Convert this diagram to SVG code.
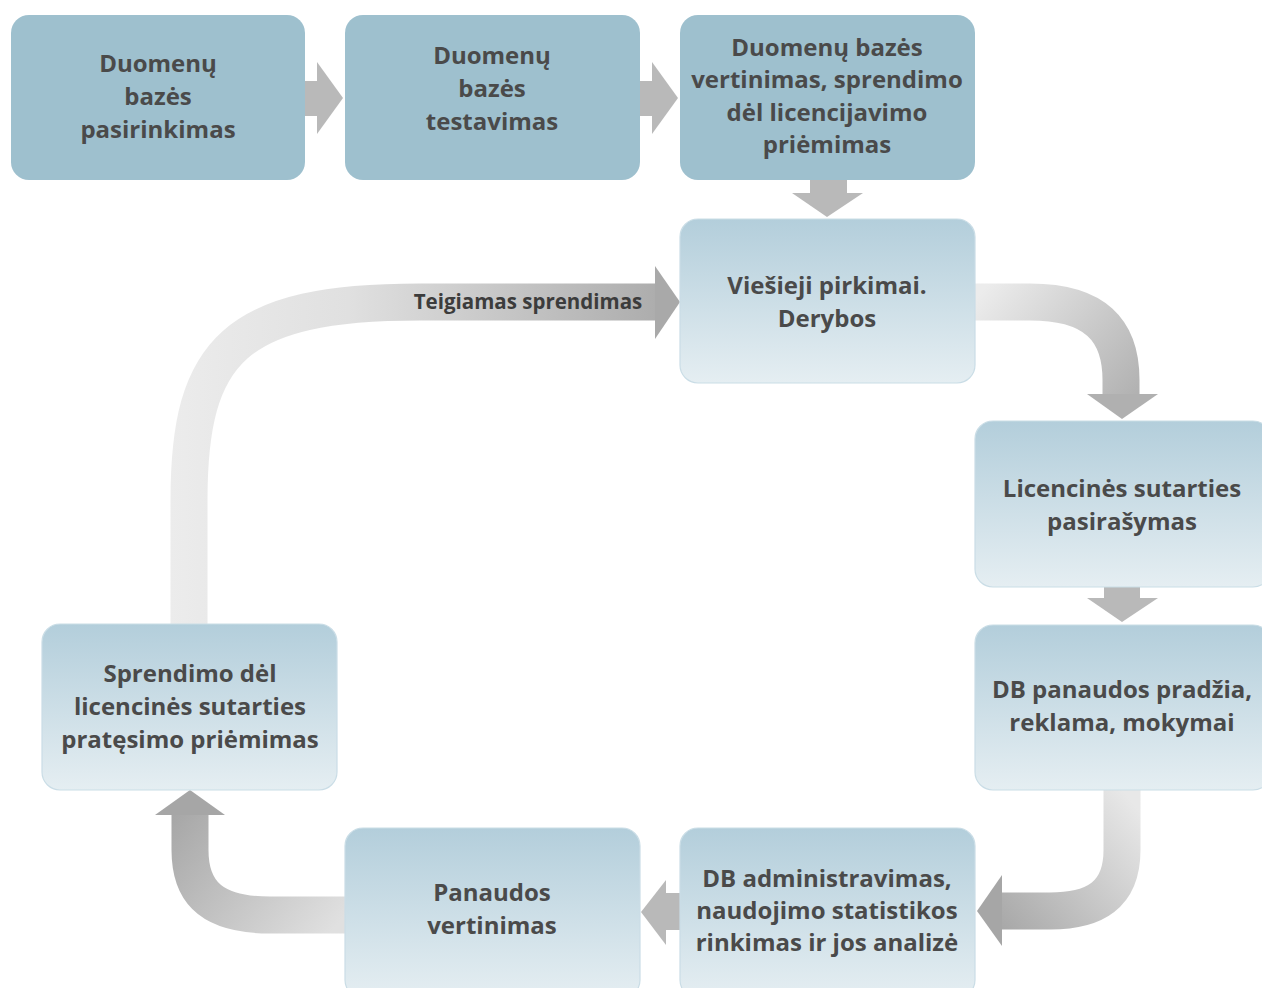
<svg xmlns="http://www.w3.org/2000/svg" width="1262" height="988" viewBox="0 0 1262 988">
<style>
.top{fill:#9ec0ce;}
.low{fill:url(#gBox);stroke:#cadde6;stroke-width:1.2;}
.t{font-family:"Open Sans","Liberation Sans",sans-serif;font-weight:700;font-size:24px;fill:#4a4a4a;text-anchor:middle;}
.lbl{font-family:"Open Sans","Liberation Sans",sans-serif;font-weight:700;font-size:20.5px;fill:#3c3c3c;text-anchor:middle;}
.ar{fill:#b9b9b9;}
.cs{fill:none;stroke-width:37;}
</style>
<defs>
<linearGradient id="gBox" x1="0" y1="0" x2="0" y2="1">
<stop offset="0" stop-color="#b3cedb"/>
<stop offset="1" stop-color="#e5eef2"/>
</linearGradient>
<linearGradient id="gBig" gradientUnits="userSpaceOnUse" x1="170" y1="0" x2="680" y2="0">
<stop offset="0" stop-color="#ececec"/>
<stop offset="0.35" stop-color="#e0e0e0"/>
<stop offset="1" stop-color="#a9a9a9"/>
</linearGradient>
<linearGradient id="gR" gradientUnits="userSpaceOnUse" x1="975" y1="300" x2="1121" y2="420">
<stop offset="0" stop-color="#ececec"/>
<stop offset="1" stop-color="#b0b0b0"/>
</linearGradient>
<linearGradient id="gBR" gradientUnits="userSpaceOnUse" x1="1122" y1="790" x2="980" y2="911">
<stop offset="0" stop-color="#e8e8e8"/>
<stop offset="1" stop-color="#a6a6a6"/>
</linearGradient>
<linearGradient id="gBL" gradientUnits="userSpaceOnUse" x1="345" y1="915" x2="190" y2="790">
<stop offset="0" stop-color="#e0e0e0"/>
<stop offset="1" stop-color="#a6a6a6"/>
</linearGradient>
</defs>

<g id="connectors">
<rect class="ar" x="304" y="81" width="14" height="35"/>
<polygon class="ar" points="317,62 343,98 317,134"/>
<rect class="ar" x="639" y="81" width="14" height="35"/>
<polygon class="ar" points="652,62 678,98 652,134"/>
<rect class="ar" x="810" y="179" width="37" height="15"/>
<polygon class="ar" points="792,193 863,193 827,217"/>
<rect class="ar" x="1104" y="586" width="36" height="13"/>
<polygon class="ar" points="1087,598 1158,598 1122,622"/>
<rect class="ar" x="665" y="893" width="16" height="37"/>
<polygon class="ar" points="666,880 641,912 666,945"/>
<path class="cs" stroke="url(#gBig)" d="M189 625 L189 500 C189 350 235 302 420 302 L656 302"/>
<polygon fill="#a9a9a9" points="655,266 680,302 655,339"/>
<path class="cs" stroke="url(#gR)" d="M975 302 L1030 302 C1095 302 1121 330 1121 380 L1121 395"/>
<polygon fill="#b0b0b0" points="1087,394 1158,394 1122,419"/>
<path class="cs" stroke="url(#gBR)" d="M1122 790 L1122 850 C1122 895 1095 911 1050 911 L1002 911"/>
<polygon fill="#a6a6a6" points="1002,875 977,911 1002,946"/>
<path class="cs" stroke="url(#gBL)" d="M345 915 L270 915 C215 915 190 895 190 850 L190 814"/>
<polygon fill="#a6a6a6" points="155,815 190,790 225,815"/>
<text class="lbl" x="528" y="309">Teigiamas sprendimas</text>
</g>

<g id="n1">
<rect class="top" x="11" y="15" width="294" height="165" rx="18"/>
<text class="t" x="158" y="72">Duomenų</text>
<text class="t" x="158" y="105">bazės</text>
<text class="t" x="158" y="138">pasirinkimas</text>
</g>
<g id="n2">
<rect class="top" x="345" y="15" width="295" height="165" rx="18"/>
<text class="t" x="492" y="64">Duomenų</text>
<text class="t" x="492" y="97">bazės</text>
<text class="t" x="492" y="130">testavimas</text>
</g>
<g id="n3">
<rect class="top" x="680" y="15" width="295" height="165" rx="18"/>
<text class="t" x="827" y="56">Duomenų bazės</text>
<text class="t" x="827" y="88">vertinimas, sprendimo</text>
<text class="t" x="827" y="121">dėl licencijavimo</text>
<text class="t" x="827" y="153">priėmimas</text>
</g>
<g id="n4">
<rect class="low" x="680" y="219" width="295" height="164" rx="18"/>
<text class="t" x="827" y="294">Viešieji pirkimai.</text>
<text class="t" x="827" y="327">Derybos</text>
</g>
<g id="n5">
<rect class="low" x="975" y="421" width="296" height="166" rx="18"/>
<text class="t" x="1122" y="497">Licencinės sutarties</text>
<text class="t" x="1122" y="530">pasirašymas</text>
</g>
<g id="n6">
<rect class="low" x="975" y="625" width="296" height="165" rx="18"/>
<text class="t" x="1122" y="698">DB panaudos pradžia,</text>
<text class="t" x="1122" y="731">reklama, mokymai</text>
</g>
<g id="n7">
<rect class="low" x="680" y="828" width="295" height="170" rx="18"/>
<text class="t" x="827" y="887">DB administravimas,</text>
<text class="t" x="827" y="919">naudojimo statistikos</text>
<text class="t" x="827" y="951">rinkimas ir jos analizė</text>
</g>
<g id="n8">
<rect class="low" x="345" y="828" width="295" height="170" rx="18"/>
<text class="t" x="492" y="901">Panaudos</text>
<text class="t" x="492" y="934">vertinimas</text>
</g>
<g id="n9">
<rect class="low" x="42" y="624" width="295" height="166" rx="18"/>
<text class="t" x="190" y="682">Sprendimo dėl</text>
<text class="t" x="190" y="715">licencinės sutarties</text>
<text class="t" x="190" y="748">pratęsimo priėmimas</text>
</g>
</svg>
